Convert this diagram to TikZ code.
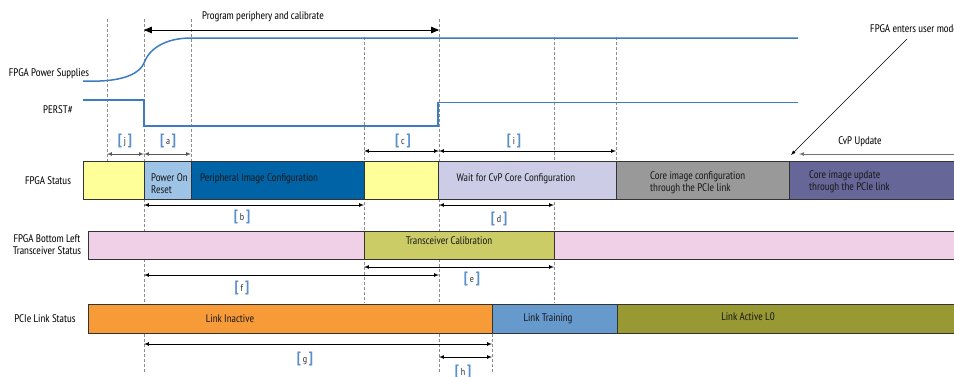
\documentclass[tikz,border=0pt]{standalone}
\usepackage{fontspec}
\setmainfont{PT Sans Narrow}
\usepackage{xcolor}
\usetikzlibrary{shapes,arrows,positioning}

\definecolor{sigblue}{HTML}{3D7CC0}
\definecolor{brk}{HTML}{5B8FCB}
\definecolor{yellowbox}{HTML}{FFFF99}
\definecolor{porblue}{HTML}{9DC3E6}
\definecolor{periblue}{HTML}{0063A6}
\definecolor{waitlav}{HTML}{CCCCE6}
\definecolor{coregray}{HTML}{999999}
\definecolor{cvppurple}{HTML}{666699}
\definecolor{pinkbox}{HTML}{F0D0E6}
\definecolor{caliolive}{HTML}{CCCC66}
\definecolor{linkorange}{HTML}{F79A38}
\definecolor{trainblue}{HTML}{6699CC}
\definecolor{activeolive}{HTML}{999933}

\newcommand{\brtag}[1]{{\fontsize{15}{15}\selectfont\bfseries\textcolor{brk}{[}}\,{\fontsize{10}{10}\selectfont\textcolor{black!80}{#1}}\,{\fontsize{15}{15}\selectfont\bfseries\textcolor{brk}{]}}}

\begin{document}
\begin{tikzpicture}[x=1pt,y=-1pt,>=latex,font=\fontsize{11}{12}\selectfont]
    \tikzstyle{guide}=[draw=black!45,line width=0.5pt,dash pattern=on 3pt off 2pt]
    \tikzstyle{signal}=[draw=sigblue,line width=1.5pt]
    \tikzstyle{state}=[draw=black!80,line width=0.7pt,anchor=north west,inner sep=0pt]
    \tikzstyle{dim}=[<->,line width=0.7pt]
    \tikzstyle{rowlabel}=[align=center,inner sep=0pt]
    \tikzstyle{boxtext}=[align=left,inner sep=0pt,text=black!90]
    \tikzstyle{tag}=[inner sep=0pt]

    \clip (0,0) rectangle (954,376);

    % Draw the dashed time marks
    \foreach \x / \top / \bot in {107/19/161, 144/19/372, 191/19/161, 364/37/303,
                                  439/19/372, 492/304/372, 554/37/303, 616/37/161}
        \draw[guide] (\x,\top) -- (\x,\bot);

    % Draw the signals
    \draw[signal] (83,81) -- (100,81) .. controls (125,80) and (140,73) .. (144,63)
        .. controls (149,49) and (165,38) .. (191,38) -- (798,38);
    \draw[signal] (83,100) -- (144,100) -- (144,126) -- (438,126) -- (438,102.5) -- (798,102.5);

    % Draw the FPGA status boxes
    \foreach \name / \x / \w / \col in {1/83/61/yellowbox, 2/144/47/porblue, 3/191/173/periblue,
                                       4/364/74/yellowbox, 5/438/178/waitlav, 6/616/173/coregray,
                                       7/789/175/cvppurple}
        \node[state,fill=\col,minimum width=\w,minimum height=38] (S-\name) at (\x,161) {};

    % Draw the transceiver boxes
    \foreach \name / \x / \w / \col in {1/88/276/pinkbox, 2/364/190/caliolive, 3/554/410/pinkbox}
        \node[state,fill=\col,minimum width=\w,minimum height=28] (T-\name) at (\x,231) {};

    % Draw the PCIe link boxes
    \foreach \name / \x / \w / \col in {1/88/404/linkorange, 2/492/125/trainblue, 3/617/347/activeolive}
        \node[state,fill=\col,minimum width=\w,minimum height=29] (P-\name) at (\x,304) {};

    % Texts in the boxes
    \node[boxtext,anchor=west] (por) at (151,183.5) {Power On\\Reset};
    \node[boxtext,anchor=west] (peri) at (200,179) {Peripheral Image Configuration};
    \node[boxtext] (wait) at (516,179) {Wait for CvP Core Configuration};
    \node[boxtext,anchor=west] (coreconf) at (650,183) {Core image configuration\\through the PCIe link};
    \node[boxtext,anchor=west] (coreupd) at (809,182) {Core image update\\through the PCIe link};
    \node[boxtext] (calib) at (449,241) {Transceiver Calibration};
    \node[boxtext] (inactive) at (230,319) {Link Inactive};
    \node[boxtext] (training) at (548,319) {Link Training};
    \node[boxtext] (active) at (748,317) {Link Active L0};

    % Annotate the rows
    \node[rowlabel] (powlab) at (49,74) {FPGA Power Supplies};
    \node[rowlabel] (perstlab) at (58,110) {PERST\#};
    \node[rowlabel] (statlab) at (48,181) {FPGA Status};
    \node[rowlabel] (xcvrlab) at (47,245) {FPGA Bottom Left\\Transceiver Status};
    \node[rowlabel] (pcielab) at (45,319) {PCIe Link Status};

    % Program periphery arrow
    \coordinate (prog-l) at (144,30);
    \coordinate (prog-r) at (439,30);
    \draw[<->,line width=0.8pt,>=triangle 45] (prog-l) -- (prog-r);
    \node[tag] (proglab) at (263,17) {Program periphery and calibrate};

    % Interval arrows with their tags
    \foreach \name / \y / \a / \b / \lx / \ly / \col in {j/154/107/144/125/141/black!65, a/154/144/191/168/141/black!65,
            c/151/364/439/403/141/black, i/151/439/616/514/141/black,
            b/205/144/364/242/217/black, d/205/439/554/499/219/black,
            e/267/364/554/472/279/black, f/275/144/439/242/288/black,
            g/344/144/492/305/359/black, h/357/439/492/463/372/black}
    {
        \coordinate (\name-l) at (\a,\y);
        \coordinate (\name-r) at (\b,\y);
        \draw[dim,draw=\col] (\name-l) -- (\name-r);
        \node[tag] (\name-tag) at (\lx,\ly) {\brtag{\name}};
    }

    % User mode and CvP update
    \node[tag,anchor=west] (usermode) at (870,29) {FPGA enters user mode};
    \coordinate (user-foot) at (907,39);
    \coordinate (user-tip) at (791,155);
    \draw[->,line width=0.6pt] (user-foot) -- (user-tip);
    \coordinate (cvp-r) at (954,154);
    \coordinate (cvp-l) at (799,154);
    \draw[->,line width=0.7pt,draw=black!55] (cvp-r) -- (cvp-l);
    \node[tag] (cvplab) at (860,142) {CvP Update};

\end{tikzpicture}
\end{document}
